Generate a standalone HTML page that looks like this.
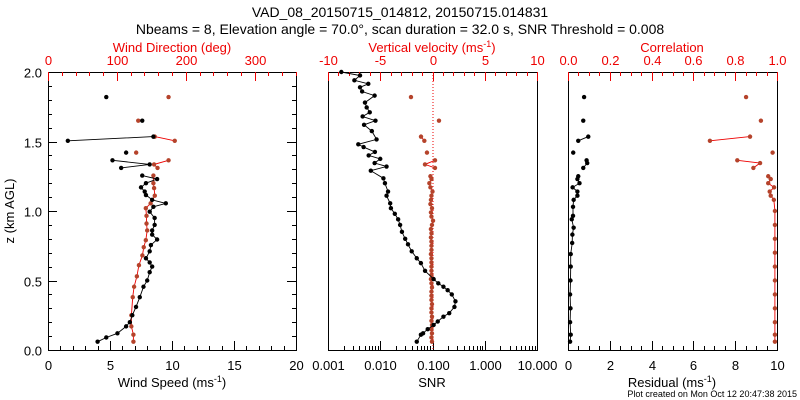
<!DOCTYPE html>
<html><head><meta charset="utf-8"><style>
body{margin:0;background:#fff}
svg{display:block;font-family:"Liberation Sans",sans-serif}
</style></head><body>
<svg id="c" width="800" height="400" viewBox="0 0 800 400">
<g id="g"></g>
</svg>
<script>
// ---- data ----
const spdZ=[0.06,0.09,0.12,0.17,0.2,0.25,0.31,0.38,0.455,0.5,0.56,0.6,0.63,0.66,0.71,0.755,0.795,0.83,0.86,0.9,0.95,0.995,1.03,1.055,1.08,1.115,1.14,1.17,1.2,1.23,1.255,1.31,1.335,1.365,1.42,1.505,1.535,1.65,1.82];
const spdV=[4.0,4.7,5.6,6.3,6.6,6.8,7.1,7.4,7.7,8.0,8.2,8.4,8.2,7.9,8.2,8.3,8.8,8.4,8.4,8.6,8.6,8.2,8.5,9.5,8.4,7.9,7.8,7.5,7.9,8.8,7.6,5.9,8.2,5.2,6.3,1.6,8.5,7.6,4.7];
const dirZ=[0.06,0.11,0.17,0.25,0.38,0.455,0.53,0.61,0.68,0.74,0.79,0.86,0.91,0.965,1.02,1.055,1.11,1.165,1.2,1.255,1.31,1.335,1.365,1.42,1.505,1.535,1.65,1.82];
const dirV=[124,124,121,121,123,125,129,132,137,139,142,144,143,143,142,149,155,154,153,153,159,154,175,128,184,155,131,175];
const snrZ=[0.06,0.11,0.12,0.15,0.18,0.205,0.24,0.265,0.31,0.35,0.4,0.43,0.455,0.48,0.51,0.57,0.625,0.66,0.71,0.76,0.8,0.85,0.9,0.94,0.98,1.02,1.055,1.11,1.14,1.2,1.235,1.29,1.32,1.345,1.375,1.4,1.425,1.46,1.48,1.515,1.575,1.62,1.65,1.68,1.71,1.745,1.78,1.83,1.86,1.89,1.915,1.94,1.975,2.0];
const snrV=[0.050,0.060,0.066,0.081,0.105,0.126,0.162,0.209,0.263,0.275,0.234,0.195,0.162,0.129,0.105,0.072,0.060,0.050,0.040,0.034,0.030,0.026,0.024,0.022,0.019,0.016,0.0155,0.0132,0.0141,0.0123,0.0115,0.0066,0.0132,0.0078,0.0100,0.0060,0.0079,0.0048,0.0038,0.0085,0.0069,0.0049,0.0081,0.0046,0.0063,0.0055,0.0051,0.0078,0.0045,0.0041,0.0059,0.0032,0.0041,0.0018];
const wZ=[0.06,0.09,0.12,0.15,0.18,0.21,0.24,0.27,0.3,0.33,0.36,0.39,0.42,0.45,0.48,0.51,0.54,0.57,0.6,0.63,0.66,0.69,0.72,0.75,0.78,0.81,0.84,0.87,0.9,0.93,0.96,0.99,1.02,1.05,1.08,1.11,1.14,1.17,1.2,1.23,1.25,1.31,1.335,1.365,1.42,1.505,1.535,1.65,1.82];
const wV=[-0.05,-0.1,-0.05,-0.1,-0.05,-0.1,-0.05,-0.1,-0.1,-0.05,-0.1,-0.1,-0.1,-0.05,-0.1,-0.15,-0.1,-0.1,-0.1,-0.1,-0.1,-0.15,-0.1,-0.1,-0.1,-0.15,-0.1,-0.15,-0.05,0.05,-0.1,-0.15,-0.05,-0.2,-0.15,-0.1,0.0,-0.2,-0.3,-0.1,-0.2,0.24,-0.72,0.24,-0.53,-0.78,-1.1,0.62,-2.06];
const resZ=[0.06,0.11,0.2,0.3,0.4,0.5,0.6,0.69,0.77,0.83,0.88,0.94,0.965,1.03,1.08,1.11,1.14,1.17,1.2,1.23,1.25,1.31,1.345,1.365,1.42,1.505,1.535,1.65,1.82];
const resV=[0.10,0.13,0.1,0.12,0.1,0.12,0.13,0.13,0.2,0.21,0.27,0.18,0.24,0.24,0.27,0.45,0.45,0.22,0.55,0.45,0.49,0.73,0.92,0.89,0.25,0.49,0.97,0.73,0.77];
const corZ=[0.06,0.11,0.2,0.3,0.4,0.5,0.6,0.7,0.8,0.9,1.0,1.08,1.11,1.14,1.17,1.2,1.23,1.25,1.31,1.345,1.365,1.42,1.505,1.535,1.65,1.82];
const corV=[0.99,0.99,0.99,0.99,0.99,0.99,0.99,0.99,0.99,0.99,0.99,0.985,0.97,0.965,0.986,0.958,0.97,0.958,0.887,0.919,0.81,0.979,0.679,0.871,0.923,0.852];
// ---- layout ----
const T=72,B=350;
const P=[{l:48,r:296},{l:328,r:537},{l:568,r:777}];
const y=z=>B-(z/2)*(B-T);
const xs=(p,a,b)=>v=>p.l+(v-a)/(b-a)*(p.r-p.l);
const xSpd=xs(P[0],0,20),xDir=xs(P[0],0,360);
const xSnr=v=>P[1].l+(Math.log10(v)+3)/4*(P[1].r-P[1].l);
const xW=xs(P[1],-10,10);
const xRes=xs(P[2],0,10),xCor=xs(P[2],0,1);
const g=document.getElementById('g');
const NS='http://www.w3.org/2000/svg';
function el(t,a,name){const e=document.createElementNS(NS,t);for(const k in a)e.setAttribute(k,a[k]);


g.appendChild(e);return e;}
function txt(x,yy,s,fill,anchor,size,name){const e=el('text',{x:x,y:yy,fill:fill,'text-anchor':anchor,'font-size':size},name);e.textContent=s;return e;}
// frames
P.forEach((p,i)=>{el('rect',{x:p.l+.5,y:T+.5,width:p.r-p.l,height:B-T,fill:'none',stroke:'#000'},'panel-frame-'+(i+1));});
// y ticks (panel 1 left/right)
for(let k=0;k<=20;k++){const z=k/10,yy=Math.round(y(z))+.5,len=k%5==0?9:4;
el('line',{x1:P[0].l,x2:P[0].l+len,y1:yy,y2:yy,stroke:'#000'},'y-tick');
el('line',{x1:P[0].r,x2:P[0].r-len,y1:yy,y2:yy,stroke:'#000'},'y-tick');
if(k%5==0)txt(42,yy+5,z.toFixed(1),'#000','end',13,'y-tick-label');}
function xticks(p,sc,a,b,minor,major,labels,top,col,fmt){
 for(let v=a;v<=b+1e-9;v+=minor){const xx=Math.round(sc(v))+.5;const isM=Math.abs(v/major-Math.round(v/major))<1e-6;const len=isM?9:4;
  if(top)el('line',{x1:xx,x2:xx,y1:T,y2:T+len,stroke:col},'x-top-tick');
  else el('line',{x1:xx,x2:xx,y1:B,y2:B-len,stroke:col},'x-tick');
  if(isM&&labels)txt(xx,top?65:370,fmt(v),col,'middle',13,top?'top-tick-label':'x-tick-label');}
}
xticks(P[0],xSpd,0,20,1,5,true,false,'#000',v=>Math.round(v)+'');
xticks(P[0],xDir,0,360,20,100,true,true,'#e00',v=>Math.round(v)+'');
xticks(P[1],xW,-10,10,1,5,true,true,'#e00',v=>Math.round(v)+'');
xticks(P[2],xRes,0,10,0.5,2,true,false,'#000',v=>Math.round(v)+'');
xticks(P[2],xCor,0,1,0.05,0.2,true,true,'#e00',v=>v.toFixed(1));
// log ticks
for(let d=-3;d<=1;d++){for(let m=1;m<=9;m++){if(d==1&&m>1)break;const v=m*Math.pow(10,d);const xx=Math.round(xSnr(v))+.5;
 el('line',{x1:xx,x2:xx,y1:B,y2:B-(m==1?9:4),stroke:'#000'},'snr-tick');
 if(m==1)txt(xx,370,v.toFixed(3),'#000','middle',13,'snr-tick-label');}}
// zero dotted line
el('line',{x1:xW(0)+.5,x2:xW(0)+.5,y1:T,y2:B,stroke:'#e00','stroke-dasharray':'1,2'},'zero-line');
// series
function series(zs,vs,sc,lineCol,mk,name,gap){
 let d='';for(let i=0;i<zs.length;i++){const px=sc(vs[i]),py=y(zs[i]);const dz=i?zs[i]-zs[i-1]:0;
  const brk=i==0||dz>0.15||(zs[i]>1.3&&dz>gap);
  d+=(brk?'M':'L')+px.toFixed(1)+','+py.toFixed(1);}
 el('path',{d:d,fill:'none',stroke:lineCol,'stroke-width':0.9},name+'-line');
 for(let i=0;i<zs.length;i++){el('circle',{cx:sc(vs[i]),cy:y(zs[i]),r:2.2,fill:mk},name+'-point');}
}
const BR='#b5432b';
series(dirZ,dirV,xDir,'#e00',BR,'wind-direction',0.05);
series(spdZ,spdV,xSpd,'#000','#000','wind-speed',0.05);
series(wZ,wV,xW,'#e00',BR,'vertical-velocity',0.05);
series(snrZ,snrV,xSnr,'#000','#000','snr',0.1);
series(corZ,corV,xCor,'#e00',BR,'correlation',0.05);
series(resZ,resV,xRes,'#000','#000','residual',0.05);
// titles
txt(400,17,'VAD_08_20150715_014812, 20150715.014831','#000','middle',14,'chart-title');
txt(400,34,'Nbeams = 8, Elevation angle = 70.0°, scan duration = 32.0 s, SNR Threshold = 0.008','#000','middle',14,'chart-subtitle');
txt(172,52,'Wind Direction (deg)','#e00','middle',13,'wind-direction-title');
let t=txt(432,52,'Vertical velocity (ms','#e00','middle',13,'vertical-velocity-title');
const s1=document.createElementNS(NS,'tspan');s1.setAttribute('dy','-5');s1.setAttribute('font-size','9');s1.textContent='-1';t.appendChild(s1);
const s2=document.createElementNS(NS,'tspan');s2.setAttribute('dy','5');s2.textContent=')';t.appendChild(s2);
txt(672,52,'Correlation','#e00','middle',13,'correlation-title');
t=txt(172,387,'Wind Speed (ms','#000','middle',13,'wind-speed-title');
let a=document.createElementNS(NS,'tspan');a.setAttribute('dy','-5');a.setAttribute('font-size','9');a.textContent='-1';t.appendChild(a);
a=document.createElementNS(NS,'tspan');a.setAttribute('dy','5');a.textContent=')';t.appendChild(a);
txt(432,387,'SNR','#000','middle',13,'snr-title');
t=txt(672,387,'Residual (ms','#000','middle',13,'residual-title');
a=document.createElementNS(NS,'tspan');a.setAttribute('dy','-5');a.setAttribute('font-size','9');a.textContent='-1';t.appendChild(a);
a=document.createElementNS(NS,'tspan');a.setAttribute('dy','5');a.textContent=')';t.appendChild(a);
const yl=txt(14,211,'z (km AGL)','#000','middle',13,'y-axis-title');yl.setAttribute('transform','rotate(-90 14 211)');
txt(797,397,'Plot created on Mon Oct 12 20:47:38 2015','#000','end',9,'plot-created-note');
</script>
</body></html>
